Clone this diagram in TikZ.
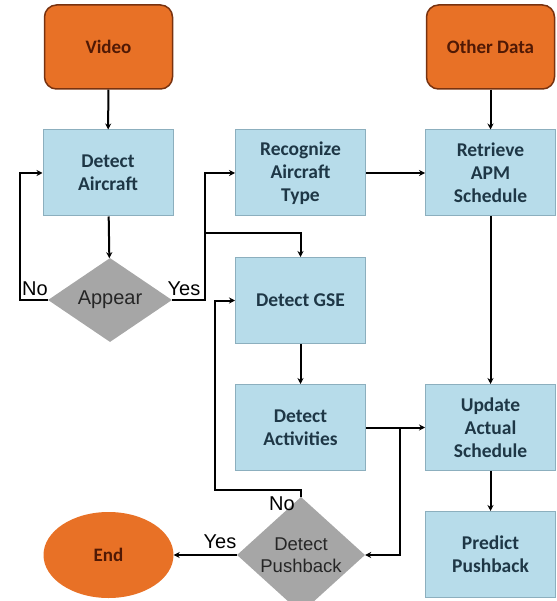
\documentclass[tikz,border=0pt]{standalone}
\usepackage{fontspec}
\setmainfont{Carlito}
\newfontfamily\labelfont{Liberation Sans}
\usetikzlibrary{shapes.geometric,arrows.meta}

\definecolor{srcfill}{RGB}{232,113,38}
\definecolor{srcdraw}{RGB}{120,50,15}
\definecolor{srctext}{RGB}{80,25,5}
\definecolor{stepfill}{RGB}{183,220,234}
\definecolor{stepdraw}{RGB}{140,175,190}
\definecolor{steptext}{RGB}{30,55,70}
\definecolor{askfill}{RGB}{166,166,166}

\tikzset{
	srcbox/.style={draw=srcdraw, line width=1.5pt, fill=srcfill, rounded corners=12pt,
		minimum width=128pt, minimum height=84pt, font=\fontsize{19}{23}\selectfont\bfseries, text=srctext},
	stepbox/.style={draw=stepdraw, line width=1pt, fill=stepfill, align=center,
		minimum width=130pt, minimum height=86pt, font=\fontsize{19.5}{23}\selectfont\bfseries, text=steptext},
	askbox/.style={diamond, fill=askfill, align=center, inner sep=0pt, text=black!85},
	flow/.style={->, line width=2pt},
	tag/.style={font=\labelfont\fontsize{20}{22}\selectfont, inner sep=0pt}
}

\begin{document}
\begin{tikzpicture}[x=1pt, y=-1pt, >={Stealth[length=6pt, width=6pt]}]
		\useasboundingbox (0,0) rectangle (556,601);

		\node[srcbox] (video) at (108.5, 47) {Video};
		\node[srcbox] (other) at (490.5, 47) {Other Data};

		\node[stepbox] (detair) at (108, 173) {Detect\\Aircraft};
		\node[stepbox] (recog) at (300.5, 173) {Recognize\\Aircraft\\Type};
		\node[stepbox] (retrieve) at (490.5, 173) {Retrieve\\APM\\Schedule};
		\node[stepbox] (gse) at (300.5, 300.5) {Detect GSE};
		\node[stepbox] (act) at (300.5, 427.5) {Detect\\Activities};
		\node[stepbox] (update) at (490.5, 427.5) {Update\\Actual\\Schedule};
		\node[stepbox] (predict) at (490.5, 554.5) {Predict\\Pushback};

		\node[askbox, minimum width=124pt, minimum height=84pt,
			font=\labelfont\fontsize{20}{22}\selectfont] (appear) at (110, 300) {Appear};
		\node[askbox, minimum width=128pt, minimum height=86pt,
			font=\labelfont\fontsize{18.5}{22}\selectfont] (pushback) at (301, 555) {Detect\\Pushback};
		\node[ellipse, fill=srcfill, minimum width=130pt, minimum height=86pt,
			font=\fontsize{19}{23}\selectfont\bfseries, text=srctext] (end) at (108.5, 555) {End};

		\coordinate (split) at (205, 233);
		\coordinate (fork) at (400, 427.5);
		\coordinate (loop) at (215, 490);

		\draw[flow] (video) -- (detair);
		\draw[flow] (detair) -- (appear);
		\draw[flow] (appear.west) -- ++(-28, 0) |- (detair.west);
		\draw[flow] (appear.east) -| (split) |- (recog.west);
		\draw[flow] (split) -| (gse.north);
		\draw[flow] (recog) -- (retrieve);
		\draw[flow] (other) -- (retrieve);
		\draw[flow] (retrieve) -- (update);
		\draw[flow] (gse) -- (act);
		\draw[flow] (act) -- (update);
		\draw[flow] (fork) |- (pushback.east);
		\draw[flow] (update) -- (predict);
		\draw[flow] (pushback.north) |- (loop) |- (gse.west);
		\draw[flow] (pushback.west) -- (end);

		\node[tag] (appno) at (35, 289) {No};
		\node[tag] (appyes) at (184, 289) {Yes};
		\node[tag] (pushno) at (282, 504) {No};
		\node[tag] (pushyes) at (220, 542) {Yes};
	\end{tikzpicture}
\end{document}
